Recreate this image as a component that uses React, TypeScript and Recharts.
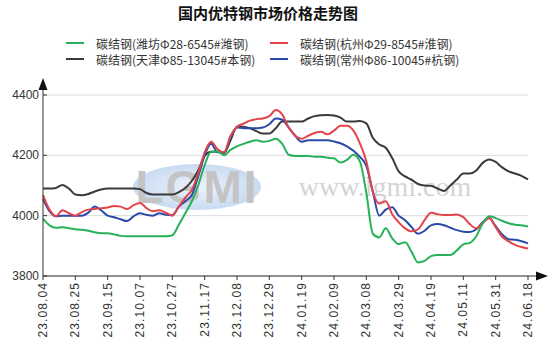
import { CartesianGrid, Line, LineChart, ReferenceDot, XAxis, YAxis } from 'recharts';

const dateLabels = [
  '23.08.04', '23.08.25', '23.09.15', '23.10.07', '23.10.27', '23.11.17', '23.12.08', '23.12.29',
  '24.01.19', '24.02.09', '24.03.08', '24.03.29', '24.04.19', '24.05.11', '24.05.31', '24.06.18',
];

// 5 readings per label interval
const weifang = [
  3990, 3968, 3960, 3962, 3958, 3955, 3953, 3950, 3945, 3942, 3942, 3938, 3933, 3932, 3932, 3932,
  3932, 3932, 3932, 3932, 3935, 3970, 4008, 4047, 4100, 4168, 4212, 4213, 4200, 4218, 4230, 4238,
  4245, 4250, 4245, 4248, 4255, 4238, 4202, 4198, 4198, 4198, 4195, 4195, 4192, 4190, 4176, 4185,
  4202, 4180, 4075, 3940, 3928, 3958, 3925, 3906, 3912, 3880, 3845, 3850, 3866, 3870, 3870, 3870,
  3885, 3905, 3910, 3932, 3975, 3998, 3992, 3983, 3975, 3970, 3968, 3964,
];
const hangzhou = [
  4068, 4020, 3998, 4018, 4008, 4000, 4012, 4020, 4022, 4025, 4027, 4032, 4030, 4022, 4035, 4042,
  4025, 4015, 4018, 4010, 4000, 4030, 4060, 4085, 4140, 4210, 4245, 4220, 4210, 4265, 4295, 4305,
  4315, 4320, 4322, 4330, 4350, 4335, 4292, 4265, 4255, 4265, 4274, 4278, 4270, 4282, 4298, 4298,
  4282, 4240, 4180, 4080, 4040, 4048, 4005, 3978, 3958, 3948, 3955, 3985, 4010, 4005, 4002, 4002,
  4004, 3995, 3972, 3958, 3975, 3992, 3962, 3930, 3915, 3903, 3896, 3891,
];
const tianjin = [
  4090, 4090, 4092, 4102, 4090, 4070, 4068, 4072, 4080, 4087, 4090, 4090, 4090, 4090, 4090, 4088,
  4075, 4070, 4070, 4070, 4070, 4078, 4092, 4115, 4150, 4198, 4212, 4212, 4208, 4250, 4295, 4295,
  4290, 4280, 4272, 4272, 4290, 4312, 4312, 4312, 4312, 4322, 4330, 4333, 4334, 4332, 4325, 4312,
  4312, 4314, 4306, 4258, 4236, 4225, 4191, 4147, 4130, 4119, 4105, 4100, 4099, 4090, 4082, 4100,
  4120, 4140, 4140, 4150, 4175, 4186, 4178, 4160, 4147, 4140, 4132, 4120,
];
const changzhou = [
  4055, 4015, 3998, 4000, 4000, 4000, 4000, 4010, 4030, 4018, 4000, 3995, 3988, 3982, 3998, 4008,
  4003, 4000, 4008, 4003, 4002, 4030, 4048, 4068, 4130, 4200, 4238, 4210, 4210, 4258, 4292, 4290,
  4290, 4290, 4292, 4303, 4322, 4318, 4292, 4265, 4245, 4250, 4250, 4250, 4250, 4246, 4240, 4230,
  4215, 4195, 4165, 4080, 4000, 4020, 4028, 4000, 3985, 3962, 3940, 3950, 3968, 3972, 3968, 3960,
  3952, 3947, 3946, 3955, 3978, 3992, 3965, 3938, 3922, 3920, 3915, 3908,
];

const yTicks = [3800, 4000, 4200, 4400];

const series = [
  { key: 'tianjin', name: '碳结钢(天津Φ85-13045#本钢)', color: '#3a3a3a' },
  { key: 'changzhou', name: '碳结钢(常州Φ86-10045#杭钢)', color: '#2b4aa8' },
  { key: 'hangzhou', name: '碳结钢(杭州Φ29-8545#淮钢)', color: '#e2444a' },
  { key: 'weifang', name: '碳结钢(潍坊Φ28-6545#潍钢)', color: '#27b25a' },
];

const legendRows = [
  [series[3], series[2]],
  [series[0], series[1]],
];

const data = weifang.map((v, i) => ({
  i,
  weifang: v,
  hangzhou: hangzhou[i],
  tianjin: tianjin[i],
  changzhou: changzhou[i],
}));

const font = '"Liberation Sans", Arial, sans-serif';
const cjk = '"Noto Sans CJK SC", "Liberation Sans", sans-serif';

const XTick = ({ x, y, payload }: any) => (
  <text
    x={x + 4}
    y={y}
    transform={`rotate(-90, ${x + 4}, ${y})`}
    textAnchor="end"
    fontSize={12}
    fontFamily={font}
    letterSpacing={1.1}
    fill="#333"
  >
    {dateLabels[Math.round(payload.value / 5)]}
  </text>
);

const YTick = ({ x, y, payload }: any) => (
  <g>
    <text x={x} y={y} dy={4} textAnchor="end" fontSize={12} fontFamily={font} fill="#333">
      {payload.value}
    </text>
    <line x1={x + 4} x2={x + 8} y1={y} y2={y} stroke="#333" />
  </g>
);

const UpArrow = ({ cx, cy }: any) => (
  <g>
    <line x1={cx} x2={cx} y1={cy} y2={cy - 6} stroke="#333" />
    <path d={`M${cx - 4.5},${cy - 5} L${cx},${cy - 17} L${cx + 4.5},${cy - 5} Z`} fill="#111" />
  </g>
);

const RightArrow = ({ cx, cy }: any) => (
  <g>
    <line x1={cx} x2={cx + 9} y1={cy} y2={cy} stroke="#333" />
    <path d={`M${cx + 8},${cy - 4.5} L${cx + 20},${cy} L${cx + 8},${cy + 4.5} Z`} fill="#111" />
  </g>
);

export default function App() {
  return (
    <div style={{ position: 'absolute', left: 0, top: 0, width: 554, height: 356, background: '#fff', overflow: 'hidden' }}>
      {/* watermark */}
      <svg width={554} height={356} style={{ position: 'absolute', left: 0, top: 0 }}>
        <defs>
          <radialGradient id="wm" cx="50%" cy="50%" r="50%">
            <stop offset="0%" stopColor="#eef3fb" />
            <stop offset="100%" stopColor="#c9dbf2" />
          </radialGradient>
        </defs>
        <ellipse cx={197} cy={187} rx={64} ry={23} fill="url(#wm)" />
        <text x={197} y={203} textAnchor="middle" fontSize={46} fontWeight="bold" fontFamily={font} fill="#c4c4c4" letterSpacing={2}>
          LGMI
        </text>
        <text x={385} y={196} textAnchor="middle" fontSize={28} fontFamily='"Liberation Serif", serif' fill="#d4d4d4">
          www.lgmi.com
        </text>
      </svg>
      <LineChart
        width={554}
        height={356}
        data={data}
        margin={{ top: 95, right: 26, left: 0, bottom: 0 }}
        style={{ position: 'absolute', left: 0, top: 0 }}
      >
        <CartesianGrid vertical={false} stroke="#dcdcdc" />
        <XAxis
          type="number"
          dataKey="i"
          domain={[0, 75]}
          ticks={[0, 5, 10, 15, 20, 25, 30, 35, 40, 45, 50, 55, 60, 65, 70, 75]}
          interval={0}
          height={80}
          tickSize={4}
          tickMargin={2}
          stroke="#333"
          tick={<XTick />}
        />
        <YAxis
          type="number"
          domain={[3800, 4400]}
          ticks={yTicks}
          width={43}
          tickSize={0}
          tickMargin={4}
          stroke="#333"
          tick={<YTick />}
        />
        {series.map((s) => (
          <Line
            key={s.key}
            dataKey={s.key}
            name={s.name}
            type="monotone"
            stroke={s.color}
            strokeWidth={2}
            dot={false}
            isAnimationActive={false}
          />
        ))}
        <ReferenceDot x={0} y={4400} r={0} ifOverflow="visible" shape={<UpArrow />} />
        <ReferenceDot x={75} y={3800} r={0} ifOverflow="visible" shape={<RightArrow />} />
      </LineChart>
      <div
        style={{
          position: 'absolute',
          left: 148,
          top: 3,
          width: 240,
          textAlign: 'center',
          fontFamily: cjk,
          fontSize: 15,
          fontWeight: 'bold',
          color: '#111',
          lineHeight: '20px',
        }}
      >
        国内优特钢市场价格走势图
      </div>
      {legendRows.map((row, r) =>
        row.map((s, c) => (
          <div
            key={s.key}
            style={{
              position: 'absolute',
              left: c === 0 ? 66 : 270,
              top: 35 + r * 16,
              height: 16,
              display: 'flex',
              alignItems: 'center',
              fontFamily: cjk,
              fontSize: 12,
              color: '#333',
              whiteSpace: 'nowrap',
            }}
          >
            <span style={{ display: 'inline-block', width: 18, height: 2, background: s.color, marginRight: 12 }} />
            {s.name}
          </div>
        ))
      )}
    </div>
  );
}
